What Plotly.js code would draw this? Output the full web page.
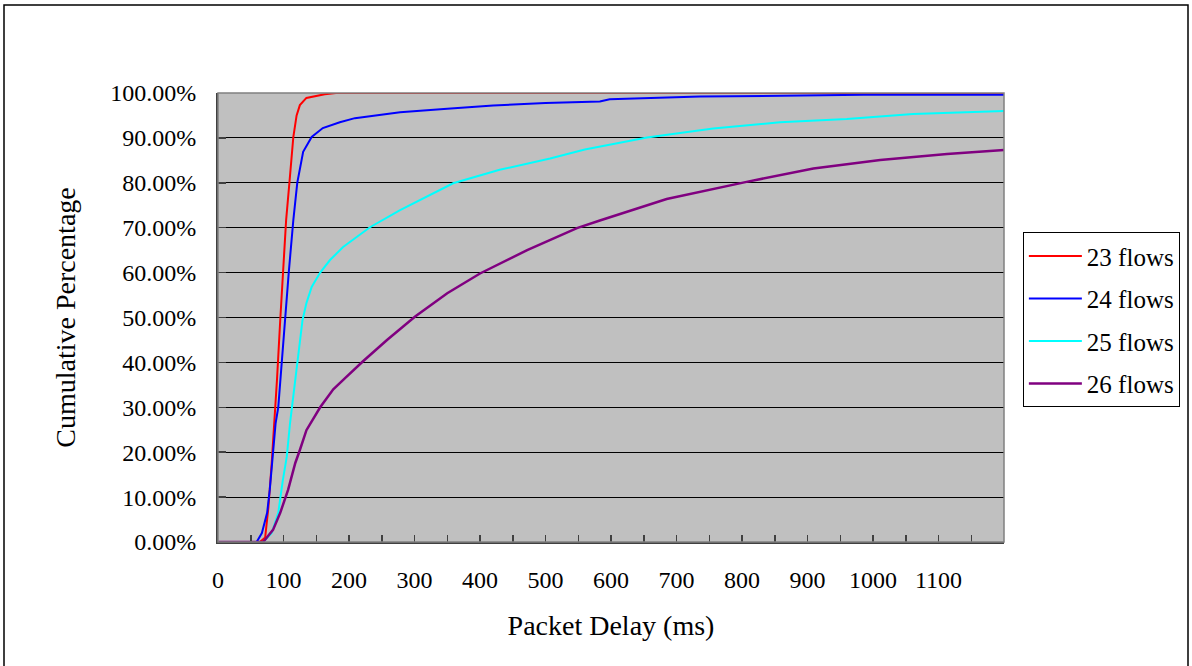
<!DOCTYPE html>
<html>
<head>
<meta charset="utf-8">
<script src="https://cdn.plot.ly/plotly-3.0.1.min.js"></script>
<style>
html,body{margin:0;padding:0;background:#fff;}
#chart{width:1192px;height:666px;}
</style>
</head>
<body>
<div id="chart"></div>
<script>
// Packet delay (ms) and cumulative fraction
const seriesNames = ["23 flows", "24 flows", "25 flows", "26 flows"];
const seriesColors = ["#FF0000", "#0000FF", "#00FFFF", "#800080"];

const delay23 = [0, 64, 72, 77, 82, 87, 90, 95, 99, 104, 109, 115, 120, 125, 135, 163, 180, 1200];
const cum23 = [0, 0, 1, 7.8, 17.6, 28.7, 36, 49.4, 60, 71.7, 80, 90.2, 95, 97.3, 98.9, 99.7, 100, 100];

const delay24 = [0, 59, 67, 75, 79, 84, 88, 92, 95, 102, 108, 115, 121, 130, 143, 160, 186, 209, 278, 350, 420, 500, 583, 598, 736, 985, 1200];
const cum24 = [0, 0, 2, 6.5, 11.6, 19, 26.5, 30, 36, 49.4, 60, 71.7, 80, 86.9, 90.2, 92.2, 93.5, 94.4, 95.7, 96.5, 97.2, 97.8, 98.1, 98.6, 99.2, 99.6, 99.6];

const delay25 = [0, 69, 82, 92, 99, 105, 110, 114, 118, 122, 129, 135, 143, 156, 171, 191, 217, 232, 278, 359, 430, 507, 560, 655, 756, 858, 960, 1061, 1200];
const cum25 = [0, 0, 2, 6.5, 13.8, 19, 26.5, 31.6, 36, 40.5, 49.4, 53.2, 56.8, 60, 62.8, 65.7, 68.4, 70.1, 73.9, 79.9, 82.9, 85.4, 87.4, 90.1, 92.1, 93.5, 94.2, 95.3, 96.0];

const delay26 = [0, 69, 84, 95, 107, 118, 125, 135, 156, 176, 194, 221, 258, 301, 350, 400, 472, 548, 583, 685, 807, 909, 1011, 1113, 1200];
const cum26 = [0, 0, 2.7, 6.5, 11.6, 17.6, 20.5, 24.9, 30, 34, 36.5, 40.2, 45, 50.2, 55.4, 59.8, 65, 69.9, 71.6, 76.4, 80.2, 83.2, 85.1, 86.4, 87.3];

const xTickVals = [0, 100, 200, 300, 400, 500, 600, 700, 800, 900, 1000, 1100];
const xMinorVals = [50, 150, 250, 350, 450, 550, 650, 750, 850, 950, 1050, 1150];
const yTickVals = [0, 0.1, 0.2, 0.3, 0.4, 0.5, 0.6, 0.7, 0.8, 0.9, 1.0];

const xs = [delay23, delay24, delay25, delay26];
const ys = [cum23, cum24, cum25, cum26];

const font = "Liberation Serif";

const traces = xs.map((x, i) => ({
  type: "scatter",
  mode: "lines",
  x: x,
  y: ys[i].map(v => v / 100),
  name: seriesNames[i],
  legendgroup: "g" + i,
  line: {color: seriesColors[i], width: i === 3 ? 2.5 : 2},
  hoverinfo: "x+y+name"
}));

const layout = {
  width: 1192,
  height: 666,
  paper_bgcolor: "#ffffff",
  plot_bgcolor: "#C0C0C0",
  margin: {l: 218, r: 188, t: 93, b: 124, pad: 0},
  font: {family: font, color: "#000000", size: 22},
  showlegend: true,
  legend: {
    x: 1.024, y: 0.69, xanchor: "left", yanchor: "top",
    bgcolor: "#ffffff", bordercolor: "#000000", borderwidth: 1,
    font: {family: font, size: 25, color: "#000"},
    tracegroupgap: 7,
    itemwidth: 53,
    traceorder: "grouped"
  },
  xaxis: {
    range: [0, 1200],
    tickvals: xTickVals,
    ticktext: xTickVals.map(String),
    ticks: "inside", ticklen: 7, tickcolor: "#404040", tickwidth: 1.5,
    minor: {tickvals: xMinorVals, ticks: "inside", ticklen: 7, tickcolor: "#404040", tickwidth: 1.5},
    showgrid: false, zeroline: false,
    showline: true, linecolor: "#404040", linewidth: 2, mirror: false,
    ticklabelstandoff: 15,
    tickfont: {family: font, size: 24, color: "#000"},
    title: {text: "Packet Delay (ms)", font: {family: font, size: 28, color: "#000"}, standoff: 24},
    automargin: false, fixedrange: true
  },
  yaxis: {
    range: [0, 1],
    tickvals: yTickVals,
    tickformat: ".2%",
    ticks: "inside", ticklen: 8, tickcolor: "#404040", tickwidth: 1.5,
    showgrid: true, gridcolor: "#000000", gridwidth: 1,
    zeroline: false,
    showline: true, linecolor: "#404040", linewidth: 2, mirror: false,
    ticklabelstandoff: 15,
    tickfont: {family: font, size: 24, color: "#000"},
    title: {text: "Cumulative Percentage", font: {family: font, size: 28, color: "#000"}, standoff: 26},
    automargin: false, fixedrange: true
  },
  shapes: [
    {type: "rect", xref: "paper", yref: "paper", x0: 0, x1: 1, y0: 0, y1: 1,
     line: {color: "#808080", width: 1.5}, fillcolor: "rgba(0,0,0,0)", layer: "above"},
    {type: "rect", xref: "paper", yref: "paper",
     x0: (4 - 218) / 786, x1: (1188 - 218) / 786,
     y0: (542 - 670) / 449, y1: (542 - 5) / 449,
     line: {color: "#000000", width: 1.5}, fillcolor: "rgba(0,0,0,0)", layer: "below"}
  ]
};

Plotly.newPlot("chart", traces, layout, {displayModeBar: false, staticPlot: true});
</script>
</body>
</html>
